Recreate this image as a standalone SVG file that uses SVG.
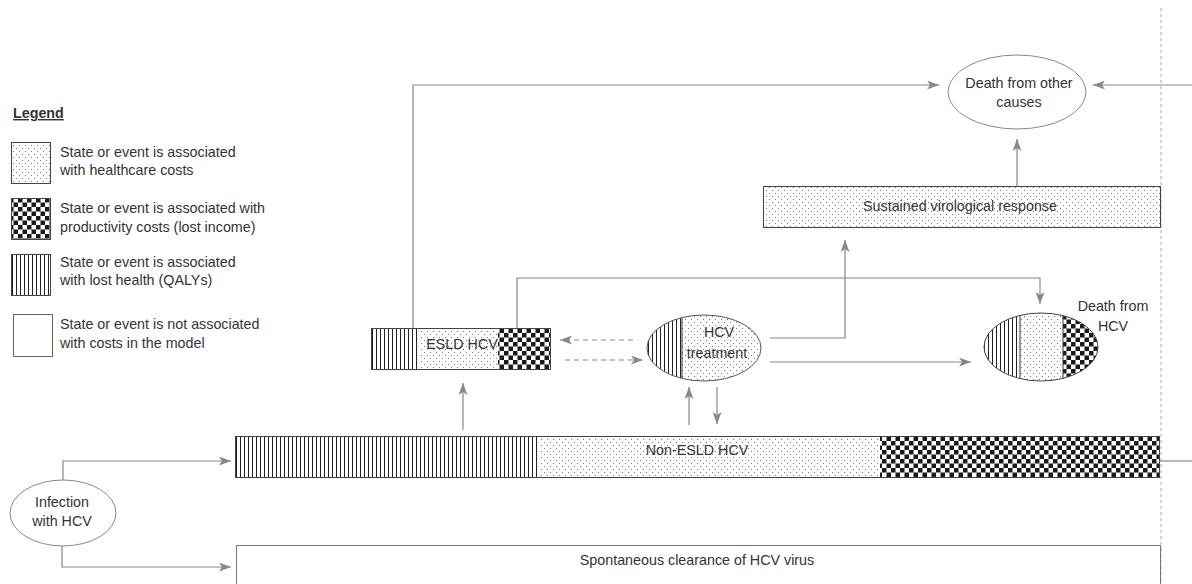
<svg xmlns="http://www.w3.org/2000/svg" width="1192" height="584" viewBox="0 0 1192 584">
<style>
text{font-family:"Liberation Sans",Arial,sans-serif;font-size:14.3px;fill:#333}
.mid{text-anchor:middle}
.box{stroke:#444;stroke-width:1}
.conn{fill:none;stroke:#888;stroke-width:1.2}
.dash{stroke-dasharray:5,4}
.sep{stroke:#333;stroke-width:1}
</style>
<defs>
<pattern id="dots" width="6" height="6" patternUnits="userSpaceOnUse">
<rect width="6" height="6" fill="#fff"/>
<rect x="1" y="1" width="1" height="1" fill="#777"/>
<rect x="4" y="4" width="1" height="1" fill="#777"/>
</pattern>
<pattern id="stripes" width="4" height="4" patternUnits="userSpaceOnUse">
<rect width="4" height="4" fill="#fff"/>
<rect x="0" y="0" width="1" height="4" fill="#222"/>
</pattern>
<pattern id="checker" width="9" height="9" patternUnits="userSpaceOnUse">
<rect width="9" height="9" fill="#fff"/>
<rect x="0" y="0" width="4.5" height="4.5" fill="#1a1a1a"/>
<rect x="4.5" y="4.5" width="4.5" height="4.5" fill="#1a1a1a"/>
</pattern>
<marker id="arr" viewBox="0 0 12 9" refX="12" refY="4.5" markerWidth="12" markerHeight="9" markerUnits="userSpaceOnUse" orient="auto">
<path d="M0,0 L12,4.5 L0,9 L3,4.5 z" fill="#888"/>
</marker>
<clipPath id="clipTreat"><ellipse cx="704" cy="348" rx="57" ry="33"/></clipPath>
<clipPath id="clipDeathHCV"><ellipse cx="1041" cy="347" rx="57" ry="34"/></clipPath>
</defs>
<rect width="1192" height="584" fill="#fff"/>

<!-- right boundary -->
<line x1="1161" y1="8" x2="1161" y2="584" stroke="#aaa" stroke-width="1" stroke-dasharray="3,3"/>

<!-- legend -->
<g id="legend">
<text x="13" y="118" font-weight="bold" text-decoration="underline">Legend</text>
<rect x="11.5" y="142.5" width="39" height="41" fill="url(#dots)" stroke="#444"/>
<text x="60" y="157">State or event is associated</text>
<text x="60" y="175">with healthcare costs</text>
<rect x="11.5" y="198.5" width="39" height="41" fill="url(#checker)" stroke="#444"/>
<text x="60" y="213">State or event is associated with</text>
<text x="60" y="232">productivity costs (lost income)</text>
<rect x="11.5" y="254.5" width="39" height="41" fill="url(#stripes)" stroke="#444"/>
<text x="60" y="267">State or event is associated</text>
<text x="60" y="285">with lost health (QALYs)</text>
<rect x="13.5" y="314.5" width="39" height="42" fill="#fff" stroke="#666"/>
<text x="60" y="329">State or event is not associated</text>
<text x="60" y="348">with costs in the model</text>
</g>

<!-- connectors -->
<g id="connectors">
<path class="conn" d="M63,480 V461 H231" marker-end="url(#arr)"/>
<path class="conn" d="M62,546 V567 H231" marker-end="url(#arr)"/>
<path class="conn" d="M413,328 V85 H939" marker-end="url(#arr)"/>
<path class="conn" d="M1192,85 H1093" marker-end="url(#arr)"/>
<path class="conn" d="M1017,187 V139" marker-end="url(#arr)"/>
<path class="conn" d="M517,328 V278 H1040 V304" marker-end="url(#arr)"/>
<path class="conn" d="M770,338 H845 V240" marker-end="url(#arr)"/>
<path class="conn" d="M770,362 H971" marker-end="url(#arr)"/>
<path class="conn dash" d="M633,340 H560" marker-end="url(#arr)"/>
<path class="conn dash" d="M565,360 H643" marker-end="url(#arr)"/>
<path class="conn" d="M463,430 V383" marker-end="url(#arr)"/>
<path class="conn" d="M689,425 V387" marker-end="url(#arr)"/>
<path class="conn" d="M717,387 V424" marker-end="url(#arr)"/>
<path class="conn" d="M1160,461 H1192"/>
</g>

<!-- Death from other causes -->
<g id="death-other">
<ellipse cx="1017" cy="92" rx="69" ry="37" fill="#fff" stroke="#888"/>
<text class="mid" x="1019" y="88">Death from other</text>
<text class="mid" x="1019" y="107">causes</text>
</g>

<!-- Sustained virological response -->
<g id="svr">
<rect class="box" x="763.5" y="186.5" width="397" height="41" fill="url(#dots)"/>
<text class="mid" x="960" y="211">Sustained virological response</text>
</g>

<!-- ESLD HCV -->
<g id="esld">
<rect x="371" y="328" width="48" height="42" fill="url(#stripes)"/>
<rect x="419" y="328" width="79" height="42" fill="url(#dots)"/>
<rect x="498" y="328" width="53" height="42" fill="url(#checker)"/>
<rect class="box" x="371.5" y="328.5" width="179" height="41" fill="none"/>
<text class="mid" x="462" y="349">ESLD HCV</text>
</g>

<!-- HCV treatment -->
<g id="hcv-treatment">
<g clip-path="url(#clipTreat)">
<rect x="647" y="314" width="35" height="68" fill="url(#stripes)"/>
<rect x="682" y="314" width="80" height="68" fill="url(#dots)"/>
<line class="sep" x1="682" y1="314" x2="682" y2="382"/>
</g>
<ellipse cx="704" cy="348" rx="57" ry="33" fill="none" stroke="#555"/>
<text class="mid" x="719" y="337">HCV</text>
<text class="mid" x="717" y="358">treatment</text>
</g>

<!-- Death from HCV -->
<g id="death-hcv">
<g clip-path="url(#clipDeathHCV)">
<rect x="984" y="313" width="36" height="69" fill="url(#stripes)"/>
<rect x="1020" y="313" width="43" height="69" fill="url(#dots)"/>
<rect x="1063" y="313" width="36" height="69" fill="url(#checker)"/>
<line class="sep" x1="1020" y1="313" x2="1020" y2="382"/>
<line class="sep" x1="1063" y1="313" x2="1063" y2="382"/>
</g>
<ellipse cx="1041" cy="347" rx="57" ry="34" fill="none" stroke="#444"/>
<text class="mid" x="1113" y="311">Death from</text>
<text class="mid" x="1113" y="331">HCV</text>
</g>

<!-- Non-ESLD HCV -->
<g id="non-esld">
<rect x="235" y="436" width="305" height="42" fill="url(#stripes)"/>
<rect x="540" y="436" width="340" height="42" fill="url(#dots)"/>
<rect x="880" y="436" width="280" height="42" fill="url(#checker)"/>
<rect class="box" x="235.5" y="436.5" width="924" height="41" fill="none"/>
<text class="mid" x="697" y="455">Non-ESLD HCV</text>
</g>

<!-- Infection with HCV -->
<g id="infection">
<ellipse cx="63" cy="513" rx="53" ry="33" fill="#fff" stroke="#888"/>
<text class="mid" x="62" y="507">Infection</text>
<text class="mid" x="62" y="526">with HCV</text>
</g>

<!-- Spontaneous clearance -->
<g id="clearance">
<path d="M236.5,584 V545.5 H1160.5 V584" fill="#fff" stroke="#777"/>
<text class="mid" x="697" y="565">Spontaneous clearance of HCV virus</text>
</g>
</svg>
